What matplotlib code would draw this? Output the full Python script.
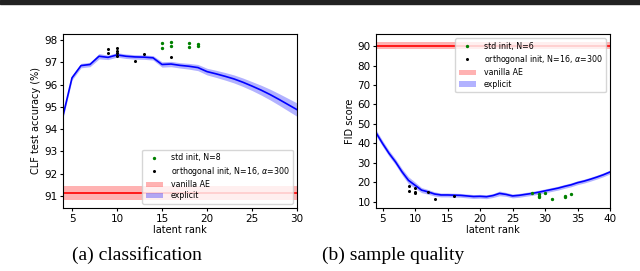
import numpy as np
import matplotlib
matplotlib.use("Agg")
import matplotlib.pyplot as plt
from matplotlib.ticker import MultipleLocator

# (a) classification
rank_a = np.arange(4, 31)
acc_mean = [94.6, 96.3, 96.85, 96.9, 97.27, 97.22, 97.33, 97.27, 97.24, 97.23,
            97.2, 96.9, 96.92, 96.86, 96.82, 96.76, 96.58, 96.48, 96.37, 96.25,
            96.1, 95.93, 95.75, 95.55, 95.33, 95.1, 94.87]
acc_std = [0.12, 0.1, 0.1, 0.1, 0.12, 0.1, 0.1, 0.1, 0.1, 0.1,
           0.1, 0.12, 0.12, 0.12, 0.13, 0.14, 0.15, 0.16, 0.17, 0.18,
           0.19, 0.2, 0.22, 0.24, 0.26, 0.28, 0.3]
std_x_a = [15, 15, 16, 16, 18, 18, 19, 19]
std_y_a = [97.85, 97.65, 97.91, 97.73, 97.85, 97.67, 97.82, 97.72]
orth_x_a = [9, 9, 10, 10, 10, 10, 12, 13, 16]
orth_y_a = [97.58, 97.43, 97.63, 97.52, 97.43, 97.3, 97.07, 97.36, 97.23]
vanilla_a, vanilla_a_std = 91.13, 0.3

# (b) sample quality
rank_b = np.arange(4, 41)
fid_mean = [45.5, 40.0, 34.9, 30.5, 25.4, 21.0, 18.5, 16.0, 15.1, 14.0,
            13.5, 13.5, 13.4, 13.3, 13.0, 12.7, 12.8, 12.6, 13.2, 14.3,
            13.8, 13.0, 13.3, 13.8, 14.3, 14.9, 15.6, 16.3, 17.0, 17.9,
            18.7, 19.8, 20.6, 21.6, 22.7, 23.9, 25.3]
fid_std = [1.5, 1.5, 1.5, 1.5, 1.6, 1.8, 1.6, 1.3, 1.2, 1.1,
           1.0, 1.0, 1.0, 1.0, 1.0, 1.0, 1.0, 1.0, 1.0, 1.2,
           1.0, 1.0, 1.0, 1.0, 1.0, 1.0, 1.0, 1.0, 1.0, 1.0,
           1.0, 1.0, 1.0, 1.0, 1.0, 1.0, 1.0]
std_x_b = [28, 29, 29, 29, 30, 31, 33, 33, 34]
std_y_b = [14.3, 14.0, 13.0, 12.2, 14.7, 11.2, 13.0, 12.2, 13.8]
orth_x_b = [9, 9, 10, 10, 10, 12, 13, 16]
orth_y_b = [17.9, 15.7, 16.9, 15.1, 14.3, 14.8, 11.2, 13.0]
vanilla_b, vanilla_b_std = 90.1, 1.8

W, H = 640, 271
fig = plt.figure(figsize=(W / 100, H / 100), dpi=100)

def panel(rect, x, m, s, sx, sy, ox, oy, van, vstd, xlim, ylim, ylabel,
          n_std, loc, ystep):
    ax = fig.add_axes(rect)
    m = np.array(m)
    s = np.array(s)
    ax.plot(xlim, [van, van], color="red", lw=1.2)
    ax.fill_between(xlim, van - vstd, van + vstd, color="red", alpha=0.3,
                    lw=0, label="vanilla AE")
    ax.plot(x, m, color="blue", lw=1.2)
    ax.fill_between(x, m - s, m + s, color="blue", alpha=0.3, lw=0,
                    label="explicit")
    ax.plot(sx, sy, ".", color="green", ms=2.8, label="std init, N=%d" % n_std)
    ax.plot(ox, oy, ".", color="black", ms=2.4,
            label=r"orthogonal init, N=16, $\alpha$=300")
    ax.set_xlim(xlim)
    ax.set_ylim(ylim)
    ax.yaxis.set_major_locator(MultipleLocator(ystep))
    ax.set_xlabel("latent rank", fontsize=7, labelpad=1)
    ax.set_ylabel(ylabel, fontsize=7, labelpad=2)
    ax.tick_params(labelsize=7.5, length=2.5, pad=1.5)
    h, l = ax.get_legend_handles_labels()
    order = [2, 3, 0, 1]
    ax.legend([h[i] for i in order], [l[i] for i in order], loc=loc,
              fontsize=5.7, handlelength=2.2, borderpad=0.45,
              labelspacing=0.3, handletextpad=1.0)
    return ax

ax1 = panel([63 / W, 1 - 208 / H, 234 / W, 174 / H], rank_a, acc_mean, acc_std,
            std_x_a, std_y_a, orth_x_a, orth_y_a, vanilla_a, vanilla_a_std,
            (4, 30), (90.45, 98.27), "CLF test accuracy (%)", 8, "lower right", 1)
ax1.set_xticks([5, 10, 15, 20, 25, 30])

ax2 = panel([376 / W, 1 - 208 / H, 234 / W, 174 / H], rank_b, fid_mean, fid_std,
            std_x_b, std_y_b, orth_x_b, orth_y_b, vanilla_b, vanilla_b_std,
            (4, 40), (6.8, 96.2), "FID score", 6, "upper right", 10)
ax2.set_xticks([5, 10, 15, 20, 25, 30, 35, 40])

fig.text(137 / W, 1 - 255 / H, "(a) classification", ha="center", va="center",
         fontsize=14, family="Liberation Serif")
fig.text(393 / W, 1 - 255 / H, "(b) sample quality", ha="center", va="center",
         fontsize=14, family="Liberation Serif")

# black rule at the top of the page
fig.patches.append(plt.Rectangle((0, 1 - 3.5 / H), 1, 3.5 / H,
                                 transform=fig.transFigure, color="#222222"))

fig.savefig("out.png", dpi=100)
